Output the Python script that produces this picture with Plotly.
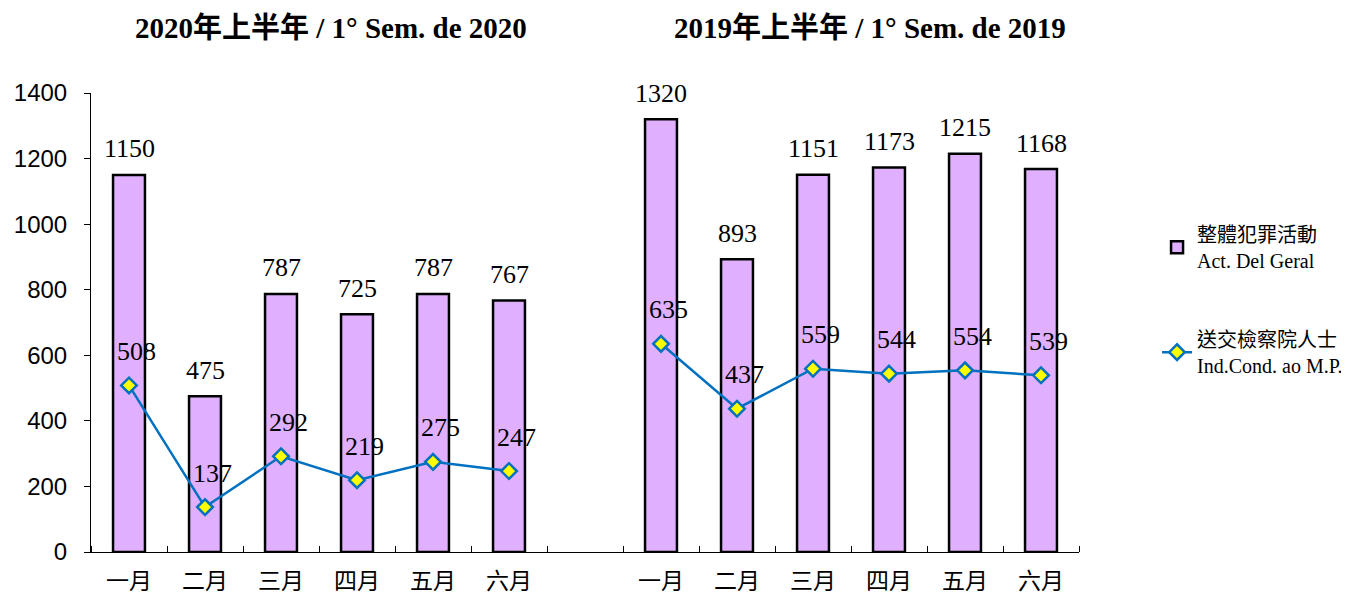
import plotly.graph_objects as go

months = ["一月", "二月", "三月", "四月", "五月", "六月"]
crime_2020 = [1150, 475, 787, 725, 787, 767]
crime_2019 = [1320, 893, 1151, 1173, 1215, 1168]
referred_2020 = [508, 137, 292, 219, 275, 247]
referred_2019 = [635, 437, 559, 544, 554, 539]
titles = ["2020年上半年 / 1° Sem. de 2020", "2019年上半年 / 1° Sem. de 2019"]
series_names = ["整體犯罪活動<br>Act. Del Geral", "送交檢察院人士<br>Ind.Cond. ao M.P."]

# 13 slots: six months, one empty gap, six months
x = list(range(13))
labels = months + [""] + months
bars = crime_2020 + [None] + crime_2019
line = referred_2020 + [None] + referred_2019

SERIF = "Liberation Serif, Times New Roman, Noto Sans CJK TC"

fig = go.Figure()
fig.add_trace(go.Bar(
    x=x, y=bars, name=series_names[0], legendgroup="a",
    width=0.42,
    marker=dict(color="#E0B0FF", line=dict(color="black", width=2.5)),
))
fig.add_trace(go.Scatter(
    x=x, y=line, name=series_names[1], legendgroup="b",
    mode="lines+markers", connectgaps=False,
    line=dict(color="#0070C0", width=2.5),
    marker=dict(symbol="diamond", size=12, color="#FFFF00",
                line=dict(color="#0070C0", width=2.5)),
))

# value labels
for xi, v in zip(x, bars):
    if v is not None:
        fig.add_annotation(x=xi, y=v, text=str(v), showarrow=False,
                           yanchor="middle", yshift=26,
                           font=dict(family=SERIF, size=26, color="black"))
for xi, v in zip(x, line):
    if v is not None:
        fig.add_annotation(x=xi, y=v, text=str(v), showarrow=False,
                           yanchor="middle", yshift=34, xshift=7,
                           font=dict(family=SERIF, size=26, color="black"))

# page body has 8px margin -> figure drawn at (8,8)
W, H = 1341, 590
L, T = 83, 85
PW, PH = 988, 459
fig.update_layout(
    width=W, height=H,
    margin=dict(l=L, r=W - L - PW, t=T, b=H - T - PH, autoexpand=False),
    plot_bgcolor="white", paper_bgcolor="white",
    showlegend=True,
    legend=dict(x=1.079, y=0.735, xanchor="left", yanchor="top",
                font=dict(family=SERIF, size=20, color="black"),
                tracegroupgap=50, bgcolor="rgba(0,0,0,0)"),
)
fig.update_xaxes(
    range=[-0.5, 12.5], tickmode="array", tickvals=x, ticktext=labels,
    ticks="", showline=True, linecolor="black", linewidth=1, automargin=False,
    showgrid=False, zeroline=False, ticklabelstandoff=8,
    tickfont=dict(family="Noto Sans CJK TC", size=23, color="black"),
    minor=dict(tickmode="linear", tick0=-0.5, dtick=1, ticks="inside",
               ticklen=6, tickcolor="black", showgrid=False),
)
fig.update_yaxes(
    range=[0, 1400], dtick=200, ticks="outside", ticklen=6, tickcolor="black",
    showline=True, linecolor="black", linewidth=1, showgrid=False, zeroline=False,
    ticklabelstandoff=12, automargin=False,
    tickfont=dict(family="Liberation Sans, Arial", size=24, color="black"),
)

for cx, t in zip([0.243, 0.788], titles):
    fig.add_annotation(x=cx, xref="paper", xanchor="center",
                       y=(552 - 28) / PH, yref="paper",
                       yanchor="middle", text="<b>" + t + "</b>", showarrow=False,
                       font=dict(family=SERIF, size=29, color="black"))

fig.write_html("out.html")
